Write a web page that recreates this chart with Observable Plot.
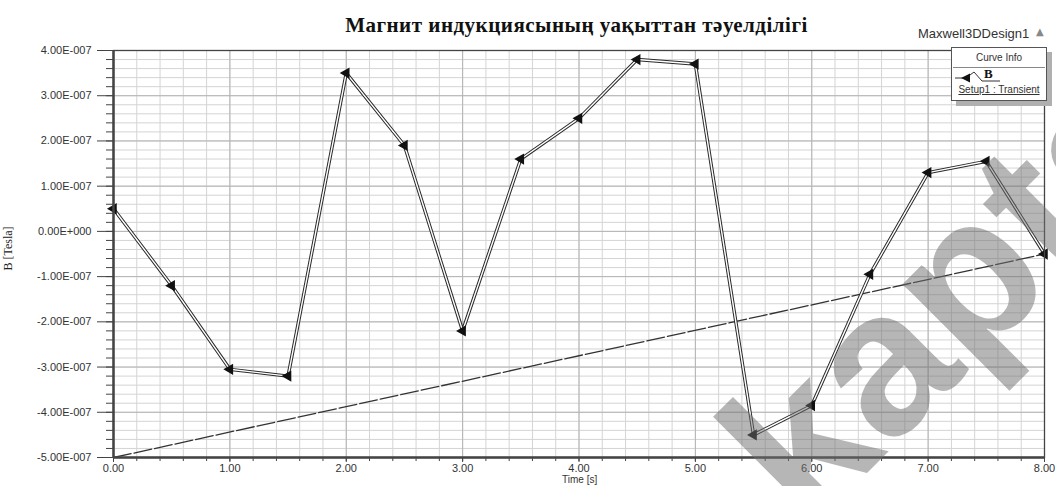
<!DOCTYPE html>
<html>
<head>
<meta charset="utf-8">
<script src="https://cdn.jsdelivr.net/npm/d3@7"></script>
<script src="https://cdn.jsdelivr.net/npm/@observablehq/plot@0.6"></script>
<style>
  html, body { margin: 0; padding: 0; background: white; }
  #wrap { position: relative; width: 1056px; height: 486px; overflow: hidden; background: white; }
  #wrap > svg.plot { position: absolute; left: 0; top: 0; }
  .ov { position: absolute; white-space: nowrap; }
</style>
</head>
<body>
<div id="wrap"></div>
<script>
// ---- data ----
const times = [0, 0.5, 1, 1.5, 2, 2.5, 3, 3.5, 4, 4.5, 5, 5.5, 6, 6.5, 7, 7.5, 8];
const bTesla = [0.5e-7, -1.2e-7, -3.05e-7, -3.2e-7, 3.5e-7, 1.9e-7, -2.2e-7, 1.6e-7, 2.5e-7, 3.8e-7, 3.7e-7, -4.5e-7, -3.85e-7, -0.95e-7, 1.3e-7, 1.55e-7, -0.5e-7];
const trendTimes = [0, 8];
const trendValues = [-5e-7, -0.5e-7];
const xTicks = [0, 1, 2, 3, 4, 5, 6, 7, 8];
const xTickLabels = ["0.00", "1.00", "2.00", "3.00", "4.00", "5.00", "6.00", "7.00", "8.00"];
const yTicks = [4e-7, 3e-7, 2e-7, 1e-7, 0, -1e-7, -2e-7, -3e-7, -4e-7, -5e-7];
const yTickLabels = ["4.00E-007", "3.00E-007", "2.00E-007", "1.00E-007", "0.00E+000", "-1.00E-007", "-2.00E-007", "-3.00E-007", "-4.00E-007", "-5.00E-007"];
const titleText = "Магнит индукциясының уақыттан тәуелділігі";
const xLabel = "Time [s]";
const yLabel = "B [Tesla]";
const designName = "Maxwell3DDesign1";
const legendHeader = "Curve Info";
const seriesName = "B";
const seriesSetup = "Setup1 : Transient";
const watermark = "kapta";

// minor grid positions (5 subdivisions per major step)
const xMinor = d3.range(0, 41).map(i => i * 0.2);
const yMinor = d3.range(-25, 21).map(i => i * 0.2e-7);

const curve = times.map((t, i) => ({t, b: bTesla[i]}));
const trend = trendTimes.map((t, i) => ({t, b: trendValues[i]}));

const yFmt = d => { const k = yTicks.findIndex(v => Math.abs(v - d) < 1e-12); return k >= 0 ? yTickLabels[k] : ""; };
const xFmt = d => { const k = xTicks.findIndex(v => Math.abs(v - d) < 1e-9); return k >= 0 ? xTickLabels[k] : ""; };

const axisColor = "#444";
const chart = Plot.plot({
  width: 1056, height: 486,
  marginLeft: 113, marginRight: 12, marginTop: 50, marginBottom: 29,
  x: {domain: [0, 8]},
  y: {domain: [-5e-7, 4e-7]},
  style: {fontFamily: "'Liberation Sans', Arial, sans-serif", fontSize: "11px", color: "#333", background: "white", overflow: "visible"},
  marks: [
    Plot.gridX(xMinor, {stroke: "#d4d4d4", strokeOpacity: 1}),
    Plot.gridY(yMinor, {stroke: "#d4d4d4", strokeOpacity: 1}),
    Plot.gridX(xTicks, {stroke: "#b4b4b4", strokeOpacity: 1}),
    Plot.gridY(yTicks, {stroke: "#b4b4b4", strokeOpacity: 1}),
    Plot.axisY(yMinor, {tickSize: 7, tickFormat: () => "", stroke: axisColor, label: null}),
    Plot.axisY(yTicks, {tickSize: 16, tickPadding: 6, tickFormat: yFmt, stroke: axisColor, fill: "#333", label: null}),
    Plot.axisX(xMinor, {tickSize: 4, tickFormat: () => "", stroke: axisColor, label: null}),
    Plot.axisX(xTicks, {tickSize: 5, tickPadding: 2, tickFormat: xFmt, stroke: axisColor, fill: "#333", label: null}),
    Plot.line(trend, {x: "t", y: "b", stroke: "#333", strokeWidth: 1.3, strokeDasharray: "18,3"}),
    Plot.line(curve, {x: "t", y: "b", stroke: "#2a2a2a", strokeWidth: 3.4}),
    Plot.line(curve, {x: "t", y: "b", stroke: "white", strokeWidth: 1.4}),
    Plot.dot(curve, {x: "t", y: "b", symbol: "triangle", rotate: -90, r: 4.2, fill: "#111", stroke: "none"}),
    Plot.frame({stroke: axisColor, strokeWidth: 1.3}),
    Plot.ruleX([0], {stroke: axisColor, strokeWidth: 2.5}),
    Plot.ruleY([-5e-7], {stroke: axisColor, strokeWidth: 2.5})
  ]
});
chart.classList.add("plot");
const wrap = document.getElementById("wrap");
wrap.appendChild(chart);

function addDiv(text, css) {
  const d = document.createElement("div");
  d.className = "ov";
  d.textContent = text;
  Object.assign(d.style, css);
  wrap.appendChild(d);
  return d;
}
// title
addDiv(titleText, {left: "0px", width: "1153px", top: "13px", textAlign: "center", lineHeight: "24px",
  fontFamily: "'Liberation Serif', 'Times New Roman', serif", fontWeight: "bold", fontSize: "21px", letterSpacing: "0.5px", color: "#111"});
// design name and triangle
addDiv(designName, {left: "918px", top: "26px", fontFamily: "'Liberation Sans', Arial, sans-serif", fontSize: "13px", color: "#333"});
addDiv("▲", {left: "1036px", top: "26px", fontFamily: "'DejaVu Sans', sans-serif", fontSize: "10px", color: "#888"});
// axis labels
addDiv(xLabel, {left: "562px", top: "474px", lineHeight: "12px", fontFamily: "'Liberation Sans', Arial, sans-serif", fontSize: "10px", color: "#333"});
addDiv(yLabel, {left: "-14px", top: "241px", transform: "rotate(-90deg)", fontFamily: "'Liberation Serif', 'Times New Roman', serif", fontSize: "12px", color: "#222"});

// legend box
const leg = document.createElement("div");
leg.className = "ov";
Object.assign(leg.style, {left: "951px", top: "47px", width: "94px", height: "52px", border: "1px solid #555",
  background: "white", boxShadow: "5px 5px 0 #b0b0b0", fontFamily: "'Liberation Sans', Arial, sans-serif", fontSize: "10px", color: "#333"});
leg.innerHTML =
  '<div style="text-align:center;height:19px;line-height:20px;border-bottom:1px solid #888;margin:0 1px">' + legendHeader + '</div>' +
  '<div style="position:relative;height:16px">' +
    '<svg width="50" height="16" style="position:absolute;left:2px;top:0">' +
      '<polyline points="1,10 12,10 20,4 28,13 46,13" fill="none" stroke="#333" stroke-width="1"/>' +
      '<path d="M7,10 L16,5.5 L16,14.5 Z" fill="#111"/>' +
    '</svg>' +
    '<span style="position:absolute;left:32px;top:-1px;line-height:14px;font-family:\'Liberation Serif\',serif;font-weight:bold;font-size:13px;color:#111">' + seriesName + '</span>' +
  '</div>' +
  '<div style="text-align:center;text-decoration:underline;margin-top:-1px;line-height:13px">' + seriesSetup + '</div>';
wrap.appendChild(leg);

// watermark overlay
const ns = "http://www.w3.org/2000/svg";
const wm = document.createElementNS(ns, "svg");
wm.setAttribute("width", 1056); wm.setAttribute("height", 486);
Object.assign(wm.style, {position: "absolute", left: "0px", top: "0px", pointerEvents: "none"});
const wt = document.createElementNS(ns, "text");
wt.setAttribute("transform", "translate(808,532) rotate(-45)");
wt.setAttribute("font-family", "'Liberation Sans', Arial, sans-serif");
wt.setAttribute("font-weight", "bold");
wt.setAttribute("font-size", "205");
wt.setAttribute("fill", "#6e6e6e");
wt.setAttribute("fill-opacity", "0.5");
wt.textContent = watermark;
wm.appendChild(wt);
wrap.appendChild(wm);
</script>
</body>
</html>
